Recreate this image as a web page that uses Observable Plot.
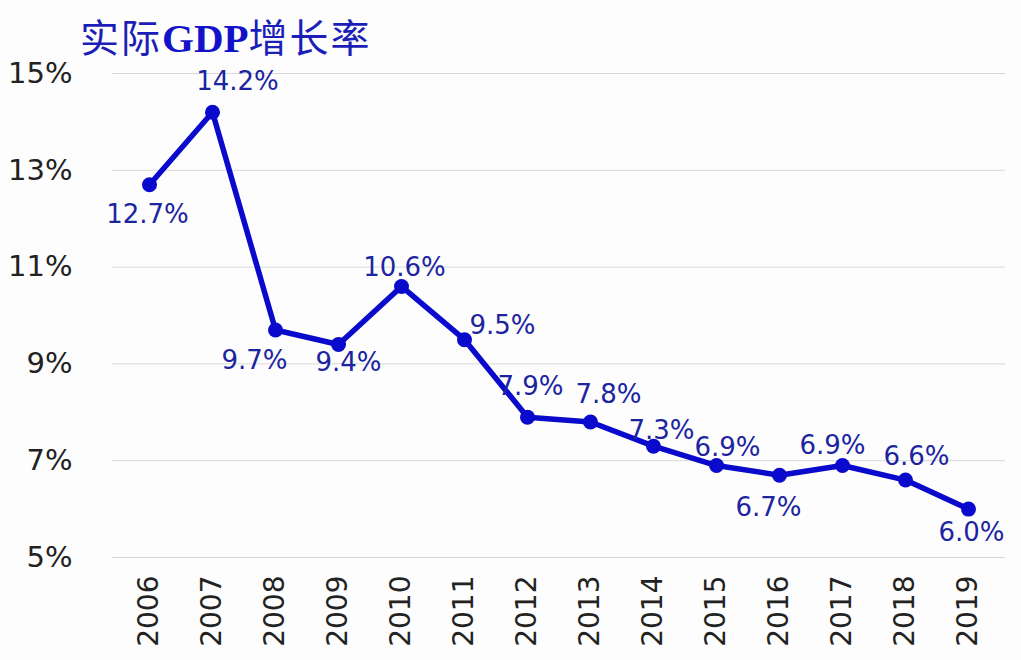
<!DOCTYPE html>
<html>
<head>
<meta charset="utf-8">
<script src="https://cdn.jsdelivr.net/npm/d3@7"></script>
<script src="https://cdn.jsdelivr.net/npm/@observablehq/plot@0.6"></script>
<style>
  html, body { margin: 0; padding: 0; background: #fdfdfd; }
  #wrap { position: relative; width: 1021px; height: 660px; }
  #title { position: absolute; left: 80px; top: 7px; font-size: 39px; color: #1b1fb8; font-family: "Noto Sans CJK SC", sans-serif; white-space: nowrap; letter-spacing: 2px; }
  #title b { font-family: "Liberation Serif", serif; font-weight: bold; font-size: 41px; color: #1212c8; letter-spacing: 0; }
</style>
</head>
<body>
<div id="wrap"><div id="title">实际<b>GDP</b>增长率</div></div>
<script>
const years = ["2006","2007","2008","2009","2010","2011","2012","2013","2014","2015","2016","2017","2018","2019"];
const growth = [12.7, 14.2, 9.7, 9.4, 10.6, 9.5, 7.9, 7.8, 7.3, 6.9, 6.7, 6.9, 6.6, 6.0];
const yTicks = [5, 7, 9, 11, 13, 15];

// label placement (dx, dy) relative to each point
const labelDx = [-2, 25, -21, 10, 3, 38, 3, 18, 8, 11, -11, -10, 11, 3];
const labelDy = [30, -31, 31, 18, -19, -14, -30, -27, -16, -18, 32, -20, -23, 24];

const data = years.map((y, i) => ({year: y, v: growth[i], label: growth[i].toFixed(1) + "%", dx: labelDx[i], dy: labelDy[i]}));

const chart = Plot.plot({
  width: 1021,
  height: 660,
  marginTop: 73,
  marginBottom: 103,
  marginLeft: 112,
  marginRight: 16,
  style: { background: "transparent", fontFamily: "DejaVu Sans, sans-serif" },
  x: { type: "point", domain: years, padding: 0.5, label: null },
  y: { domain: [5, 15], ticks: yTicks, label: null },
  marks: [
    Plot.gridY(yTicks, { stroke: "#d8d8d8", strokeOpacity: 1, strokeWidth: 1 }),
    Plot.axisY(yTicks, { tickSize: 0, tickPadding: 40, tickFormat: d => d + "%", fontSize: 29, fill: "#222", label: null }),
    Plot.axisX({ tickSize: 0, tickRotate: -90, tickPadding: 18, fontSize: 28, fill: "#222", label: null }),
    Plot.line(data, { x: "year", y: "v", stroke: "#0a0acc", strokeWidth: 5.5 }),
    Plot.dot(data, { x: "year", y: "v", r: 7.5, fill: "#0a0acc" }),
    ...data.map(d => Plot.text([d], { x: "year", y: "v", text: "label", dx: d.dx, dy: d.dy, fontSize: 26, fill: "#1c24a0" }))
  ]
});
document.getElementById("wrap").appendChild(chart);
</script>
</body>
</html>
